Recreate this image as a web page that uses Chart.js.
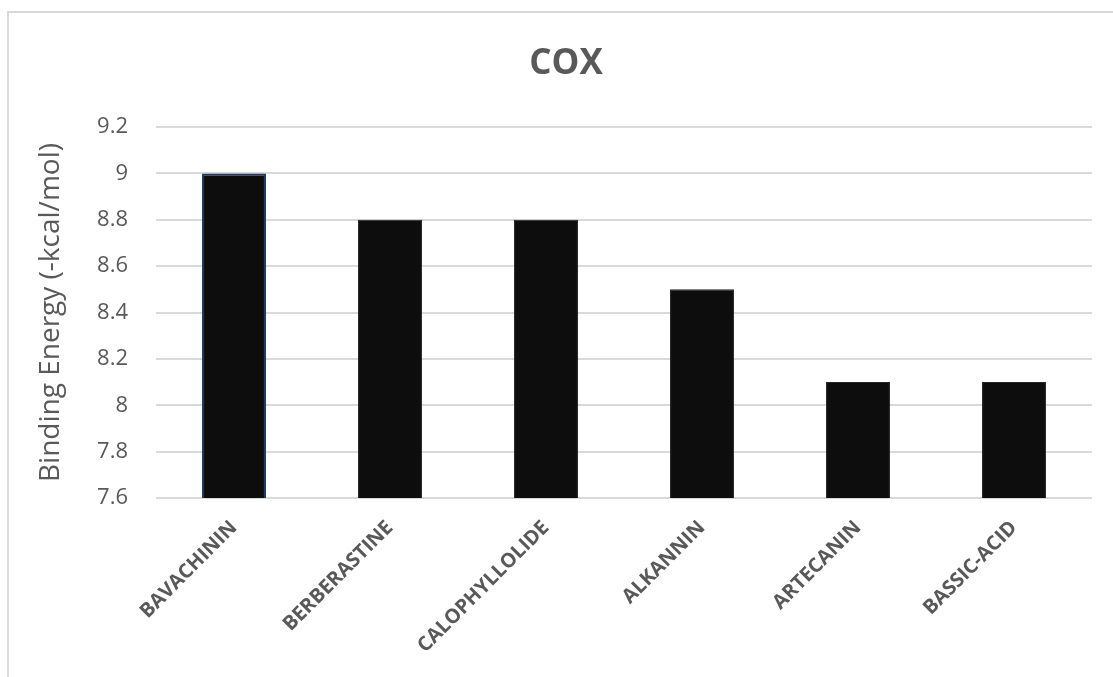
<!DOCTYPE html>
<html>
<head>
<meta charset="utf-8">
<script src="https://cdn.jsdelivr.net/npm/chart.js@4"></script>
<style>
  html, body { margin: 0; padding: 0; background: #fff; overflow: hidden; }
  #frame {
    position: absolute; left: 7px; top: 11px; width: 1120px; height: 700px;
    border-left: 2px solid #d9d9d9; border-top: 2px solid #d9d9d9;
  }
  #wrap { position: absolute; left: 0; top: 0; width: 1113px; height: 677px; }
</style>
</head>
<body>
<div id="frame"></div>
<div id="wrap"><canvas id="chart"></canvas></div>
<script>
const compounds = ["BAVACHININ", "BERBERASTINE", "CALOPHYLLOLIDE", "ALKANNIN", "ARTECANIN", "BASSIC-ACID"];
const bindingEnergy = [9.0, 8.8, 8.8, 8.5, 8.1, 8.1];
const yMin = 7.6;
const yMax = 9.2;
const yStep = 0.2;

const textColor = "#595959";
const fontFamily = "'Open Sans', 'Liberation Sans', sans-serif";

new Chart(document.getElementById("chart"), {
  type: "bar",
  data: {
    labels: compounds,
    datasets: [
      {
        data: bindingEnergy,
        backgroundColor: "#0d0d0d",
        borderColor: ["#1f3864", "#262626", "#262626", "#262626", "#262626", "#262626"],
        borderWidth: [2, 1, 1, 1, 1, 1],
        categoryPercentage: 1,
        barPercentage: 0.41,
      },
    ],
  },
  options: {
    responsive: true,
    maintainAspectRatio: false,
    animation: false,
    // left padding shifts the title centre onto the outer frame
    layout: { padding: { left: 40, right: 21, top: 0, bottom: 0 } },
    plugins: {
      legend: { display: false },
      tooltip: { enabled: false },
      title: {
        display: true,
        text: "COX",
        color: textColor,
        font: { family: fontFamily, size: 35, weight: "bold" },
        padding: { top: 43, bottom: 42 },
      },
    },
    scales: {
      x: {
        grid: { display: false },
        border: { display: false },
        ticks: {
          color: textColor,
          font: { family: fontFamily, size: 20, weight: "bold" },
          minRotation: 45,
          maxRotation: 45,
          padding: 10,
        },
        afterFit: (scale) => { scale.height = 179; },
      },
      y: {
        min: yMin,
        max: yMax,
        grid: { color: "#d9d9d9", lineWidth: 2, drawTicks: false },
        border: { display: false },
        ticks: {
          stepSize: yStep,
          color: textColor,
          font: { family: fontFamily, size: 22 },
          padding: 28,
          callback: (v) => String(Number(v.toFixed(1))),
        },
        title: {
          display: true,
          text: "Binding Energy (-kcal/mol)",
          color: textColor,
          font: { family: fontFamily, size: 28 },
          padding: { top: -6, bottom: 0 },
        },
        afterFit: (scale) => { scale.width = 116; },
      },
    },
  },
});
</script>
</body>
</html>
